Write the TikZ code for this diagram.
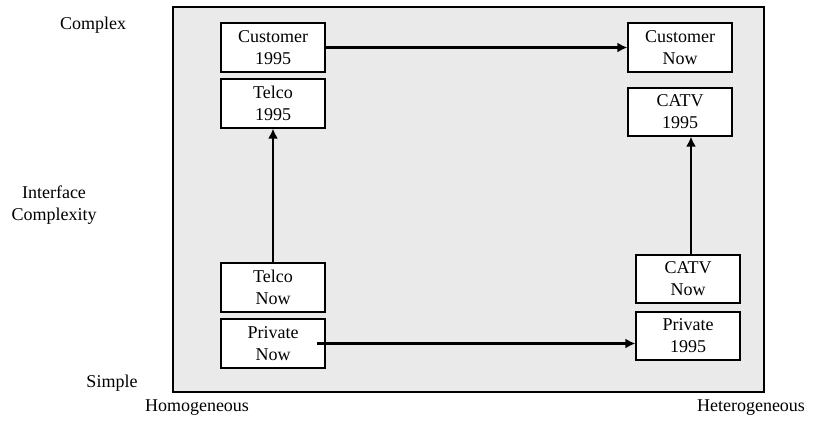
\documentclass[tikz,border=0pt]{standalone}
\usepackage{fontspec}
\setmainfont{Liberation Serif}
\usetikzlibrary{arrows.meta}
\definecolor{panel}{RGB}{234,234,234}
\begin{document}
\begin{tikzpicture}[x=1pt,y=-1pt,
  box/.style={draw=black,line width=1.2pt,fill=white,align=center,font=\fontsize{18}{22}\selectfont,inner sep=0pt},
  lbl/.style={align=center,font=\fontsize{18}{22}\selectfont,inner sep=0pt},
  conn/.style={line width=2.8pt,-{Latex[length=10pt,width=10pt]}}]
\useasboundingbox (0,0) rectangle (814,424);
\node[draw=black,line width=1.2pt,fill=panel,minimum width=591pt,minimum height=385pt,inner sep=0pt] (panel) at (468.5,199.5) {};
\node[box,minimum width=104pt,minimum height=49pt] (c95) at (273,47.5) {Customer\\1995};
\node[box,minimum width=104pt,minimum height=49pt] (t95) at (273,103.5) {Telco\\1995};
\node[box,minimum width=104pt,minimum height=49pt] (tnow) at (273,287.5) {Telco\\Now};
\node[box,minimum width=104pt,minimum height=49pt] (pnow) at (273,343.5) {Private\\Now};
\node[box,minimum width=104pt,minimum height=49pt] (cnow) at (680,47.5) {Customer\\Now};
\node[box,minimum width=104pt,minimum height=48pt] (cat95) at (680,112) {CATV\\1995};
\node[box,minimum width=104pt,minimum height=48pt] (catnow) at (688,279) {CATV\\Now};
\node[box,minimum width=104pt,minimum height=48pt] (p95) at (688,336) {Private\\1995};
\coordinate (pstart) at (317,343.5);
\draw[conn] (c95.east) -- (cnow.west);
\draw[conn] (tnow.north) -- (t95.south);
\draw[conn] (pstart) -- (pstart -| p95.west);
\draw[conn] (catnow.north -| 691,0) -- (cat95.south -| 691,0);
\node[lbl] (complex) at (93,25) {Complex};
\node[lbl] (ic) at (54,205) {Interface\\Complexity};
\node[lbl] (simple) at (112,383) {Simple};
\node[lbl] (homo) at (197,408) {Homogeneous};
\node[lbl] (hetero) at (751,408) {Heterogeneous};
\end{tikzpicture}
\end{document}
